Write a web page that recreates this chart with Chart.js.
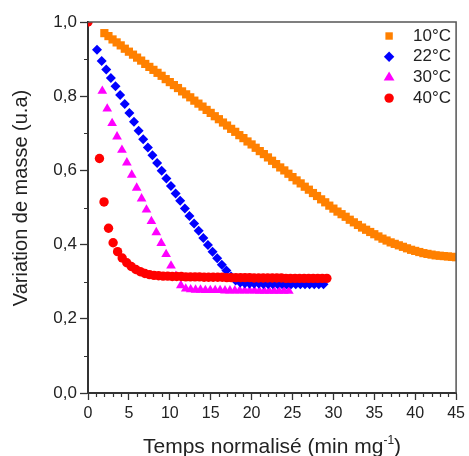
<!DOCTYPE html>
<html>
<head>
<meta charset="utf-8">
<title>Variation de masse</title>
<script src="https://cdn.jsdelivr.net/npm/chart.js"></script>
<style>
  body { margin: 0; background: #fff; }
</style>
</head>
<body>
<canvas id="masseChart" width="469" height="456"></canvas>
<script>
// Valeurs
const series = ['10°C', '22°C', '30°C', '40°C'];

const temps10 = [2,2.5,3,3.5,4,4.5,5,5.5,6,6.5,7,7.5,8,8.5,9,9.5,10,10.5,11,11.5,12,12.5,13,13.5,14,14.5,15,15.5,16,16.5,17,17.5,18,18.5,19,19.5,20,20.5,21,21.5,22,22.5,23,23.5,24,24.5,25,25.5,26,26.5,27,27.5,28,28.5,29,29.5,30,30.5,31,31.5,32,32.5,33,33.5,34,34.5,35,35.5,36,36.5,37,37.5,38,38.5,39,39.5,40,40.5,41,41.5,42,42.5,43,43.5,44,44.5,45];
const masse10 = [0.970,0.962,0.953,0.945,0.937,0.928,0.920,0.912,0.904,0.896,0.887,0.879,0.871,0.863,0.855,0.846,0.838,
  0.830,0.822,0.813,0.805,0.797,0.788,0.780,0.772,0.763,0.755,0.746,0.738,0.729,0.721,0.712,0.704,0.695,0.687,0.678,0.670,
  0.661,0.652,0.644,0.635,0.626,0.617,0.608,0.600,0.591,0.582,0.573,0.565,0.556,0.548,0.539,0.531,0.522,0.514,0.505,0.497,
  0.489,0.482,0.475,0.467,0.460,0.453,0.446,0.440,0.434,0.428,0.422,0.416,0.411,0.406,0.402,0.398,0.394,0.390,0.386,0.383,
  0.380,0.377,0.375,0.373,0.371,0.370,0.369,0.368,0.367,0.366];

const temps22 = [1.10,1.67,2.23,2.80,3.36,3.93,4.49,5.06,5.62,6.19,6.75,7.32,7.88,8.45,9.01,9.58,10.14,10.71,11.27,11.84,
  12.40,12.97,13.53,14.10,14.66,15.23,15.79,16.36,16.92,17.49,18.05,18.62,19.18,19.75,20.31,20.88,21.44,22.01,22.57,23.14,
  23.70,24.27,24.83,25.40,25.96,26.53,27.09,27.66,28.22,28.79];
const masse22 = [0.925,0.895,0.872,0.849,0.827,0.803,0.779,0.755,0.731,0.707,0.684,0.662,0.641,0.620,0.599,0.578,0.558,0.538,0.518,0.497,
  0.477,0.457,0.437,0.418,0.399,0.381,0.363,0.346,0.330,0.314,0.303,0.298,0.296,0.295,0.295,0.295,0.294,0.294,0.294,0.294,
  0.294,0.293,0.293,0.293,0.293,0.293,0.293,0.293,0.293,0.293];

const temps30 = [1.75,2.35,2.95,3.55,4.15,4.75,5.35,5.95,6.55,7.15,7.75,8.35,8.95,9.55,10.15,10.75,11.35,11.95,12.55,13.15,
  13.75,14.35,14.95,15.55,16.15,16.75,17.35,17.95,18.55,19.15,19.75,20.35,20.95,21.55,22.15,22.75,23.35,23.95,24.55];
const masse30 = [0.814,0.766,0.727,0.691,0.655,0.621,0.588,0.553,0.524,0.494,0.463,0.433,0.404,0.374,0.343,0.315,0.290,0.281,0.279,0.278,
  0.278,0.277,0.277,0.277,0.277,0.276,0.276,0.276,0.276,0.276,0.276,0.276,0.275,0.275,0.275,0.275,0.275,0.275,0.275];

const temps40 = [0,1.40,1.96,2.51,3.07,3.62,4.18,4.74,5.29,5.85,6.40,6.96,7.52,8.07,8.63,9.18,9.74,10.30,10.85,11.41,11.96,
  12.52,13.08,13.63,14.19,14.74,15.30,15.86,16.41,16.97,17.52,18.08,18.64,19.19,19.75,20.30,20.86,21.42,21.97,22.53,23.08,
  23.64,24.20,24.75,25.31,25.86,26.42,26.98,27.53,28.09,28.64,29.20];
const masse40 = [1.000,0.632,0.515,0.444,0.405,0.381,0.364,0.351,0.341,0.333,0.327,0.322,0.319,0.317,0.316,0.315,0.315,0.314,0.314,0.314,0.313,
  0.313,0.313,0.313,0.312,0.312,0.312,0.312,0.312,0.311,0.311,0.311,0.311,0.311,0.311,0.310,0.310,0.310,0.310,0.310,0.310,
  0.310,0.309,0.309,0.309,0.309,0.309,0.309,0.309,0.309,0.309,0.309];

const xTicks = [0, 5, 10, 15, 20, 25, 30, 35, 40, 45];
const yTicks = [0, 0.2, 0.4, 0.6, 0.8, 1.0];

const FONT = "'Liberation Sans', Arial, sans-serif";
const INK = '#222';
const AXIS = '#333';

function pts(xs, ys) {
  return xs.map((x, i) => ({ x: x, y: ys[i] }));
}

const styles = [
  { color: '#FF8000', shape: 'rect', radius: 5.8, order: 4 },
  { color: '#0000FF', shape: 'rectRot', radius: 5, order: 2 },
  { color: '#FF00FF', shape: 'triangle', radius: 5.6, order: 3 },
  { color: '#FF0000', shape: 'circle', radius: 4.7, order: 1 }
];
const allData = [pts(temps10, masse10), pts(temps22, masse22), pts(temps30, masse30), pts(temps40, masse40)];

const datasets = series.map((name, i) => ({
  label: name,
  data: allData[i],
  order: styles[i].order,
  pointStyle: styles[i].shape,
  pointRadius: styles[i].radius,
  pointHoverRadius: styles[i].radius,
  pointBackgroundColor: styles[i].color,
  pointBorderWidth: 0,
  showLine: false,
  clip: 0
}));

// cadre, graduations secondaires, titres des axes et legende
const decor = {
  id: 'decor',
  afterDraw(chart) {
    const ctx = chart.ctx;
    const a = chart.chartArea;
    const xs = chart.scales.x, ys = chart.scales.y;
    ctx.save();

    // frame top/right
    ctx.strokeStyle = '#555';
    ctx.lineWidth = 1.5;
    ctx.beginPath();
    ctx.moveTo(a.left, a.top);
    ctx.lineTo(a.right, a.top);
    ctx.lineTo(a.right, a.bottom);
    ctx.stroke();

    // minor ticks
    ctx.strokeStyle = AXIS;
    ctx.lineWidth = 1.2;
    ctx.beginPath();
    for (let v = 1; v < 45; v++) {
      if (v % 5 === 0) continue;
      const px = Math.round(xs.getPixelForValue(v)) + 0.5;
      ctx.moveTo(px, a.bottom);
      ctx.lineTo(px, a.bottom + 4);
    }
    for (let k = 1; k < 10; k += 2) {
      const py = Math.round(ys.getPixelForValue(k / 10)) + 0.5;
      ctx.moveTo(a.left, py);
      ctx.lineTo(a.left - 4, py);
    }
    ctx.stroke();

    // y title
    ctx.fillStyle = INK;
    ctx.font = '20px ' + FONT;
    ctx.textAlign = 'center';
    ctx.textBaseline = 'middle';
    ctx.save();
    ctx.translate(21, 198);
    ctx.rotate(-Math.PI / 2);
    ctx.fillText('Variation de masse (u.a)', 0, 0);
    ctx.restore();

    // x title with superscript
    const main = 'Temps normalisé (min mg';
    const sup = '-1';
    const end = ')';
    ctx.font = '21px ' + FONT;
    const w1 = ctx.measureText(main).width;
    const w3 = ctx.measureText(end).width;
    ctx.font = '12px ' + FONT;
    const w2 = ctx.measureText(sup).width;
    let tx = (a.left + a.right) / 2 - (w1 + w2 + w3) / 2;
    const base = 453;
    ctx.textAlign = 'left';
    ctx.textBaseline = 'alphabetic';
    ctx.font = '21px ' + FONT;
    ctx.fillText(main, tx, base);
    tx += w1;
    ctx.font = '12px ' + FONT;
    ctx.fillText(sup, tx, base - 9);
    tx += w2;
    ctx.font = '21px ' + FONT;
    ctx.fillText(end, tx, base);

    // legend
    const sx = a.right - 67, txl = a.right - 43;
    ctx.font = '17px ' + FONT;
    ctx.textBaseline = 'middle';
    series.forEach((name, i) => {
      const y = a.top + 14 + i * 20.7;
      const st = styles[i];
      ctx.fillStyle = st.color;
      ctx.beginPath();
      if (st.shape === 'rect') {
        ctx.rect(sx - 3.7, y - 3.7, 7.4, 7.4);
      } else if (st.shape === 'rectRot') {
        ctx.moveTo(sx, y - 5.2); ctx.lineTo(sx + 5.2, y); ctx.lineTo(sx, y + 5.2); ctx.lineTo(sx - 5.2, y);
        ctx.closePath();
      } else if (st.shape === 'triangle') {
        ctx.moveTo(sx, y - 6); ctx.lineTo(sx + 5.4, y + 3.2); ctx.lineTo(sx - 5.4, y + 3.2);
        ctx.closePath();
      } else {
        ctx.arc(sx, y, 4.7, 0, Math.PI * 2);
      }
      ctx.fill();
      ctx.fillStyle = INK;
      ctx.fillText(name, txl, y);
    });

    ctx.restore();
  }
};

const ctx = document.getElementById('masseChart').getContext('2d');
new Chart(ctx, {
  type: 'scatter',
  data: { datasets: datasets },
  options: {
    responsive: false,
    devicePixelRatio: 1,
    animation: false,
    layout: { padding: { top: 22, right: 10, left: 0, bottom: 0 } },
    plugins: { legend: { display: false }, tooltip: { enabled: false } },
    scales: {
      x: {
        type: 'linear',
        min: 0,
        max: 45,
        afterFit: s => { s.height = 63; },
        afterBuildTicks: s => { s.ticks = xTicks.map(v => ({ value: v })); },
        ticks: { font: { size: 16, family: FONT }, color: INK, padding: 4, maxRotation: 0, callback: v => String(v) },
        grid: { drawOnChartArea: false, tickLength: 7, tickColor: AXIS, tickWidth: 1.3 },
        border: { color: AXIS, width: 2 }
      },
      y: {
        min: 0,
        max: 1,
        afterFit: s => { s.width = 88; },
        afterBuildTicks: s => { s.ticks = yTicks.map(v => ({ value: v })); },
        ticks: { font: { size: 17, family: FONT }, color: INK, padding: 3, callback: v => v.toFixed(1).replace('.', ',') },
        grid: { drawOnChartArea: false, tickLength: 8, tickColor: AXIS, tickWidth: 1.3 },
        border: { color: AXIS, width: 2 }
      }
    }
  },
  plugins: [decor]
});
</script>
</body>
</html>
